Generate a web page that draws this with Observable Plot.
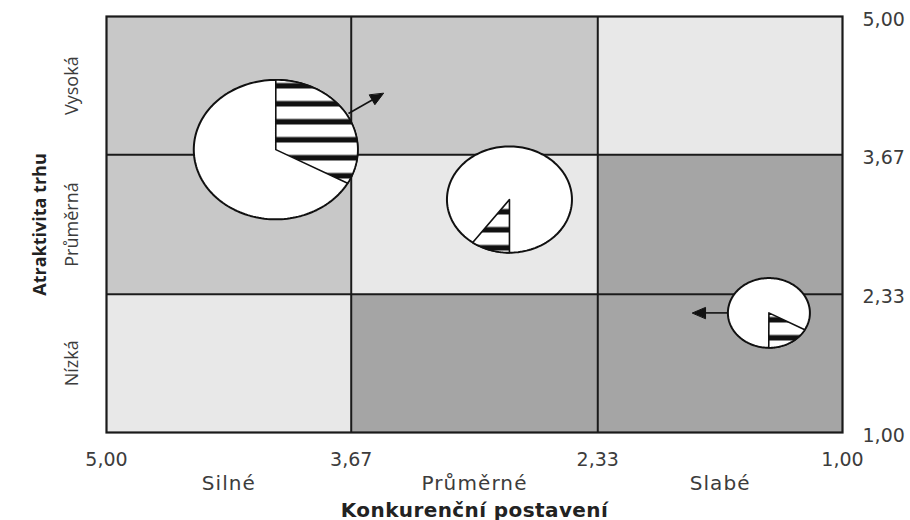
<!DOCTYPE html>
<html>
<head>
<meta charset="utf-8">
<script src="https://cdn.jsdelivr.net/npm/d3@7"></script>
<script src="https://cdn.jsdelivr.net/npm/@observablehq/plot@0.6"></script>
<style>
  html, body { margin: 0; padding: 0; background: #fff; }
  #chart { width: 910px; height: 520px; }
  .wide text { letter-spacing: 1.1px; }
  .title text { letter-spacing: 0.4px; }
</style>
</head>
<body>
<div id="chart"></div>
<script>
// ---- data ----
const xBreaks = [5, 3.67, 2.33, 1];          // Konkurenční postavení
const yBreaks = [1, 2.33, 3.67, 5];          // Atraktivita trhu
const xTickValues = [5, 3.67, 2.33, 1];
const yTickValues = [1, 2.33, 3.67, 5];
const konkurencni = ["Silné", "Průměrné", "Slabé"];
const atraktivita = ["Nízká", "Průměrná", "Vysoká"];
// shade per cell: rows = atraktivita (Nízká, Průměrná, Vysoká), cols = konkurencni
const cellShade = [
  ["light", "dark", "dark"],
  ["mid", "light", "dark"],
  ["mid", "mid", "light"]
];
// business units (pies)
const pieX = [4.08, 2.81, 1.40];
const pieY = [3.72, 3.24, 2.15];
const marketSize = [82, 62.5, 41];
const marketShare = [0.33, 0.10, 0.17];
const shareStartDeg = [0, 180, 119];
// movement arrows
const arrowFromX = [3.685, 1.625];
const arrowFromY = [4.067, 2.15];
const arrowToX = [3.495, 1.815];
const arrowToY = [4.26, 2.15];

// ---- layout / style ----
const W = 910, H = 520, ML = 106, MR = 68, MT = 16, MB = 88;
const kx = (W - ML - MR) / (xBreaks[0] - xBreaks[3]);   // px per x unit
const ky = (H - MT - MB) / (yBreaks[3] - yBreaks[0]);   // px per y unit
const vRatio = 0.85;
const hFont = "DejaVu Sans";
const vFont = "Open Sans";
const fmt = d => d.toFixed(2).replace(".", ",");

// cells
const cells = [];
atraktivita.forEach((a, r) => konkurencni.forEach((k, c) => {
  cells.push({x1: xBreaks[c], x2: xBreaks[c + 1], y1: yBreaks[r], y2: yBreaks[r + 1], shade: cellShade[r][c]});
}));

// pies as polygons in data space
function pt(i, t) {
  const rx = marketSize[i], ry = marketSize[i] * vRatio;
  return {x: pieX[i] - rx * Math.sin(t) / kx, y: pieY[i] + ry * Math.cos(t) / ky};
}
const ellipses = [], wedges = [];
pieX.forEach((_, i) => {
  for (let s = 0; s < 180; s++) ellipses.push({id: i, ...pt(i, (s / 180) * 2 * Math.PI)});
  const a0 = shareStartDeg[i] * Math.PI / 180;
  const a1 = a0 + marketShare[i] * 2 * Math.PI;
  wedges.push({id: i, x: pieX[i], y: pieY[i]});
  const n = 60;
  for (let s = 0; s <= n; s++) wedges.push({id: i, ...pt(i, a0 + (a1 - a0) * s / n)});
});

// arrows
const shafts = [], heads = [];
arrowFromX.forEach((_, i) => {
  let ux = -(arrowToX[i] - arrowFromX[i]) * kx;
  let uy = -(arrowToY[i] - arrowFromY[i]) * ky;
  const len = Math.hypot(ux, uy); ux /= len; uy /= len;
  const L = 13, Wd = 5.5;
  const toData = (px, py) => ({x: arrowToX[i] - px / kx, y: arrowToY[i] - py / ky});
  const base = toData(-L * ux, -L * uy);
  shafts.push({x1: arrowFromX[i], y1: arrowFromY[i], x2: base.x, y2: base.y});
  heads.push({id: i, x: arrowToX[i], y: arrowToY[i]});
  heads.push({id: i, ...toData(-L * ux - Wd * uy, -L * uy + Wd * ux)});
  heads.push({id: i, ...toData(-L * ux + Wd * uy, -L * uy - Wd * ux)});
});

const mid = (a, i) => (a[i] + a[i + 1]) / 2;

const chart = Plot.plot({
  width: W, height: H,
  marginLeft: ML, marginRight: MR, marginTop: MT, marginBottom: MB,
  x: {domain: [xBreaks[0], xBreaks[3]], axis: null},
  y: {domain: [yBreaks[0], yBreaks[3]], axis: null},
  color: {domain: ["light", "mid", "dark"], range: ["#e8e8e8", "#c8c8c8", "#a5a5a5"]},
  style: {fontFamily: hFont, fontSize: "18px", color: "#3c3c3c", background: "white"},
  marks: [
    Plot.rect(cells, {x1: "x1", x2: "x2", y1: "y1", y2: "y2", fill: "shade"}),
    Plot.ruleX(xBreaks.slice(1, 3), {stroke: "#1a1a1a", strokeWidth: 2}),
    Plot.ruleY(yBreaks.slice(1, 3), {stroke: "#1a1a1a", strokeWidth: 2}),
    Plot.frame({stroke: "#1a1a1a", strokeWidth: 2.2}),
    Plot.line(ellipses, {x: "x", y: "y", z: "id", curve: "linear-closed", fill: "white", stroke: "#111", strokeWidth: 2}),
    Plot.line(wedges, {x: "x", y: "y", z: "id", curve: "linear-closed", fill: "url(#hatch)", stroke: "#111", strokeWidth: 1.6}),
    Plot.link(shafts, {x1: "x1", y1: "y1", x2: "x2", y2: "y2", stroke: "#111", strokeWidth: 1.6}),
    Plot.line(heads, {x: "x", y: "y", z: "id", curve: "linear-closed", fill: "#111", stroke: "#111", strokeWidth: 1}),
    Plot.axisY(yTickValues, {anchor: "right", tickSize: 0, tickPadding: 20, tickFormat: fmt, fontFamily: hFont, fontSize: 19, dy: 3}),
    Plot.axisX(xTickValues, {anchor: "bottom", tickSize: 0, tickPadding: 20, tickFormat: fmt, fontFamily: hFont, fontSize: 19}),
    Plot.text(konkurencni, {x: (d, i) => mid(xBreaks, i), frameAnchor: "bottom", dy: 57, fontFamily: hFont, fontSize: 20, fill: "#3c3c3c", className: "wide"}),
    Plot.text(["Konkurenční postavení"], {frameAnchor: "bottom", dy: 84, fontFamily: hFont, fontSize: 20, fontWeight: "bold", fill: "#222", className: "title"}),
    Plot.text(atraktivita, {y: (d, i) => mid(yBreaks, i), frameAnchor: "left", textAnchor: "middle", dx: -34, rotate: -90, fontFamily: vFont, fontSize: 18, fill: "#3c3c3c"}),
    Plot.text(["Atraktivita trhu"], {frameAnchor: "left", textAnchor: "middle", dx: -66, rotate: -90, fontFamily: vFont, fontSize: 18, fontWeight: "bold", fill: "#222"})
  ]
});

// horizontal hatching pattern for market share wedges
const ns = "http://www.w3.org/2000/svg";
const defs = document.createElementNS(ns, "defs");
const pat = document.createElementNS(ns, "pattern");
pat.setAttribute("id", "hatch");
pat.setAttribute("patternUnits", "userSpaceOnUse");
pat.setAttribute("width", "10");
pat.setAttribute("height", "18");
const bg = document.createElementNS(ns, "rect");
bg.setAttribute("width", "10"); bg.setAttribute("height", "18"); bg.setAttribute("fill", "white");
const stripe = document.createElementNS(ns, "rect");
stripe.setAttribute("y", "10.5"); stripe.setAttribute("width", "10"); stripe.setAttribute("height", "5.5"); stripe.setAttribute("fill", "#111");
pat.appendChild(bg); pat.appendChild(stripe); defs.appendChild(pat);
chart.insertBefore(defs, chart.firstChild);

document.getElementById("chart").appendChild(chart);
</script>
</body>
</html>
